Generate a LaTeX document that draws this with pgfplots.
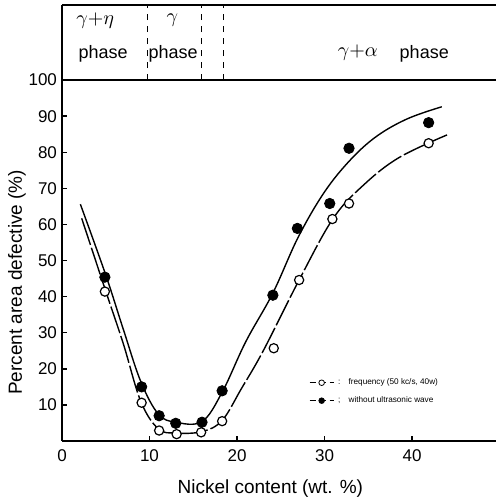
\documentclass[border=0pt]{standalone}
\usepackage{fontspec}
\setmainfont{Liberation Sans}
\usepackage{pgfplots}
\pgfplotsset{compat=1.18}

% measured points
\pgfplotstableread{
x y
4.9 41.4
9.1 10.6
11.1 2.9
13.1 1.9
15.9 2.4
18.3 5.5
24.2 25.7
27.1 44.6
30.9 61.5
32.8 65.8
41.9 82.5
}\openpts
\pgfplotstableread{
x y
4.9 45.4
9.1 15.0
11.1 7.0
13.0 4.9
16.0 5.2
18.3 13.9
24.1 40.4
26.9 58.9
30.6 65.8
32.8 81.1
41.9 88.2
}\filledpts

\begin{document}
\begin{tikzpicture}
\begin{axis}[
  scale only axis,
  width=217pt, height=218pt,
  xmin=0, xmax=49.6, ymin=0, ymax=120.8,
  axis x line*=bottom, axis y line*=left,
  axis line style={-, line width=0.9pt},
  xtick={0,10,20,30,40}, ytick={10,20,...,100},
  tick align=inside, major tick length=2.5pt,
  tick style={line width=0.7pt, black},
  /pgf/number format/assume math mode=true,
  tick label style={font=\fontsize{8.5}{10}\selectfont},
  xticklabel style={yshift=-1pt},
  yticklabel style={xshift=1pt},
  xlabel={Nickel content (wt. \%)},
  ylabel={Percent area defective (\%)},
  label style={font=\fontsize{9.5}{11}\selectfont},
  xlabel style={at={(axis description cs:0.48,0)}, anchor=center, yshift=-24pt},
  ylabel style={at={(axis description cs:-0.104,0.364)}, anchor=center},
  legend style={draw=none, fill=none, at={(axis cs:28.2,18.6)}, anchor=north west,
    font=\fontsize{4.1}{5.5}\selectfont, row sep=0.5pt, inner sep=0pt},
  legend cell align=left,
]
% frame of the phase panel
\addplot[line width=0.9pt, forget plot] coordinates {(0,100) (49.6,100)};
\addplot[line width=0.9pt, forget plot] coordinates {(0,120.8) (49.6,120.8)};
\addplot[dashed, line width=0.6pt, forget plot] coordinates {(9.8,100) (9.8,120.8)};
\addplot[dashed, line width=0.6pt, forget plot] coordinates {(15.9,100) (15.9,120.8)};
\addplot[dashed, line width=0.6pt, forget plot] coordinates {(18.45,100) (18.45,120.8)};

% fitted curves
\addplot[smooth, tension=0.6, line width=0.7pt, forget plot] coordinates {
(2.1,65.6) (5,46) (7,31) (9,16.5) (11,7.5) (13,5.2) (16,5.4) (18.3,13.5)
(21,27.5) (24.1,41) (27,56.5) (30,69) (33,78) (36,84.5) (39.5,89.3) (43.4,92.6)};
\addplot[smooth, tension=0.6, line width=0.7pt, dash pattern=on 14pt off 1.5pt, forget plot] coordinates {
(2.25,61.7) (5,41.5) (7,27) (9,11) (11,3.4) (13,2.2) (16,2.6) (18.3,5.7) (20.5,14.5)
(23,25) (27.1,44.6) (31,61.7) (34.5,71) (38.5,78.5) (44,84.8)};

% markers
\addplot[only marks, mark=*, mark size=2.3pt, mark options={draw=black, fill=white, line width=0.6pt},
  legend image code/.code={\draw[densely dashed, line width=0.5pt] (0pt,0pt) -- (12pt,0pt);
    \draw[fill=white, line width=0.4pt] (6pt,0pt) circle (1.4pt);}]
  table[x=x, y=y] {\openpts};
\addlegendentry{:\quad frequency (50 kc/s, 40w)}
\addplot[only marks, mark=*, mark size=2.6pt, mark options={draw=black, fill=black},
  legend image code/.code={\draw[densely dashed, line width=0.5pt] (0pt,0pt) -- (12pt,0pt);
    \fill (6pt,0pt) circle (1.4pt);}]
  table[x=x, y=y] {\filledpts};
\addlegendentry{;\quad without ultrasonic wave}

% phase labels
\node[font=\fontsize{10}{12}\selectfont] at (axis cs:3.8,116.6) {$\gamma{+}\eta$};
\node[font=\fontsize{9}{11}\selectfont] at (axis cs:4.7,107.3) {phase};
\node[font=\fontsize{10}{12}\selectfont] at (axis cs:12.6,116.6) {$\gamma$};
\node[font=\fontsize{9}{11}\selectfont] at (axis cs:12.7,107.3) {phase};
\node[font=\fontsize{10}{12}\selectfont] at (axis cs:33.8,107.6) {$\gamma{+}\alpha$};
\node[font=\fontsize{9}{11}\selectfont] at (axis cs:41.4,107.3) {phase};
\end{axis}
\pgfresetboundingbox
\path (current axis.south west) ++(-31pt,-30.5pt) coordinate (bl);
\path (current axis.north east) ++(0pt,2.5pt) coordinate (tr);
\path (bl) rectangle (tr);
\end{tikzpicture}
\end{document}
